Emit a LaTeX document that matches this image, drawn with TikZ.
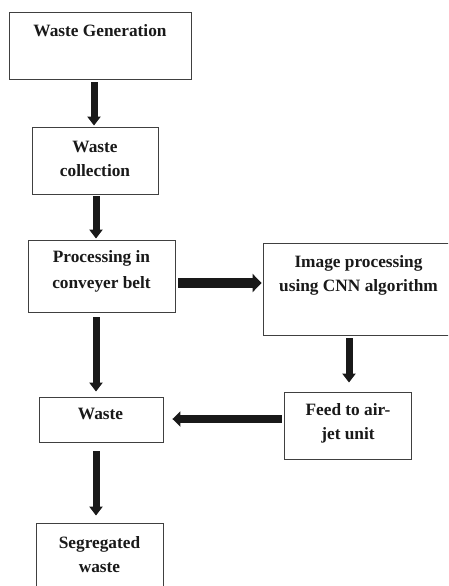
\documentclass[tikz,border=0pt]{standalone}
\usepackage{fontspec}
\setmainfont{Liberation Serif}
\usetikzlibrary{arrows.meta}
\tikzset{
  box/.style={draw=black!75, line width=0.9pt, fill=white, inner sep=0pt},
  lbl/.style={align=center, inner sep=0pt, font=\bfseries\fontsize{17.3}{24}\selectfont, text=black!90},
  arr/.style={draw=black!90, line width=7pt, -{Triangle[length=9pt,width=13pt]}},
}
\begin{document}
\begin{tikzpicture}[x=1pt,y=-1pt]
\clip (0,0) rectangle (448,586);
\fill[white] (0,0) rectangle (448,586);
% boxes
\node[box, minimum width=182pt, minimum height=67pt] (b1) at (100,45.5) {};
\node[box, minimum width=126pt, minimum height=67pt] (b2) at (95,160.5) {};
\node[box, minimum width=147pt, minimum height=72pt] (b3) at (101.5,276) {};
\node[box, minimum width=197pt, minimum height=92pt] (b4) at (361.5,289) {};
\node[box, minimum width=124pt, minimum height=45pt] (b5) at (101,419.5) {};
\node[box, minimum width=127pt, minimum height=67pt] (b6) at (347.5,425.5) {};
\node[box, minimum width=127pt, minimum height=87pt] (b7) at (99.5,566.5) {};
% texts
\node[lbl] (t1) at (100,31) {Waste Generation};
\node[lbl] (t2) at (95,159) {Waste\\collection};
\node[lbl, font=\bfseries\fontsize{17.3}{26.5}\selectfont] (t3) at (101.5,271.5) {Processing in\\conveyer belt};
\node[lbl] (t4) at (358.5,275.5) {Image processing\\using CNN algorithm};
\node[lbl] (t5) at (100.5,414) {Waste};
\node[lbl] (t6) at (348,423) {Feed to air-\\jet unit};
\node[lbl] (t7) at (99.5,554.5) {Segregated\\waste};
% arrows
\draw[arr] ([xshift=-6pt,yshift=-3pt]b1.south) -- ([xshift=-1pt,yshift=1pt]b2.north);
\draw[arr] ([xshift=1pt,yshift=-2pt]b2.south) -- ([xshift=-5.5pt,yshift=1pt]b3.north);
\draw[arr, line width=9.5pt, -{Triangle[length=9pt,width=18pt]}] ([xshift=3pt,yshift=-7pt]b3.east) -- ([xshift=-1pt,yshift=6pt]b4.west);
\draw[arr] ([xshift=-12.5pt,yshift=-3pt]b4.south) -- ([xshift=1.5pt,yshift=9pt]b6.north);
\draw[arr] ([xshift=-5.5pt,yshift=-5pt]b3.south) -- ([xshift=-5pt,yshift=5pt]b5.north);
\draw[arr, line width=8pt, -{Triangle[length=8pt,width=15pt]}] ([xshift=-2pt,yshift=6.5pt]b6.west) -- ([xshift=9pt,yshift=0.5pt]b5.east);
\draw[arr] ([xshift=-5pt,yshift=-9pt]b5.south) -- ([xshift=-3.5pt,yshift=7pt]b7.north);
\end{tikzpicture}
\end{document}
